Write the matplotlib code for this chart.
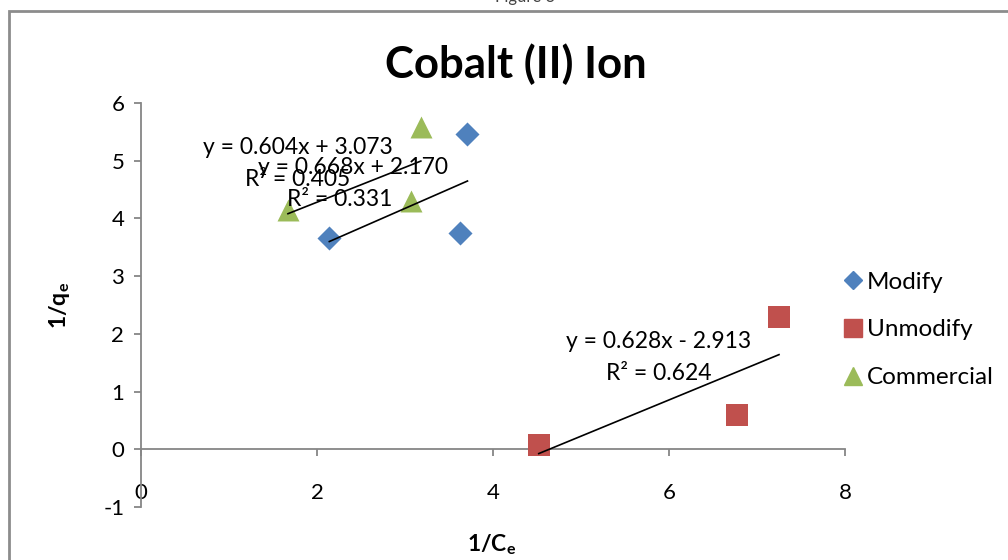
import matplotlib
matplotlib.use("Agg")
import matplotlib.pyplot as plt
import numpy as np
from matplotlib.lines import Line2D
from matplotlib.patches import Rectangle

plt.rcParams["font.family"] = ["Lato", "DejaVu Sans"]
plt.rcParams["mathtext.fontset"] = "custom"
plt.rcParams["mathtext.rm"] = "Lato"
plt.rcParams["mathtext.bf"] = "Lato:bold"
plt.rcParams["mathtext.it"] = "Lato:italic"
plt.rcParams["axes.unicode_minus"] = False

# 1/Ce and 1/qe for each adsorbent
modify_x = [2.14, 3.63, 3.71]
modify_y = [3.66, 3.74, 5.47]
unmodify_x = [4.52, 6.77, 7.25]
unmodify_y = [0.07, 0.59, 2.29]
commercial_x = [1.67, 3.07, 3.18]
commercial_y = [4.14, 4.30, 5.58]

# linear trendlines (slope, intercept, R^2)
modify_fit = (0.668, 2.170, 0.331)
unmodify_fit = (0.628, -2.913, 0.624)
commercial_fit = (0.604, 3.073, 0.405)

x_ticks = [0, 2, 4, 6, 8]
y_ticks = [-1, 0, 1, 2, 3, 4, 5, 6]

BLUE = "#4F81BD"
RED = "#C0504D"
GREEN = "#9BBB59"
AXIS_GRAY = "#868686"

fig = plt.figure(figsize=(10.08, 5.6), dpi=100)
ax = fig.add_axes([141 / 1008, 1 - 507 / 560, 704 / 1008, 404 / 560])

ax.scatter(modify_x, modify_y, marker="D", s=150, color=BLUE, zorder=3, linewidths=0)
ax.scatter(unmodify_x, unmodify_y, marker="s", s=230, color=RED, zorder=3, linewidths=0)
ax.scatter(commercial_x, commercial_y, marker="^", s=250, color=GREEN, zorder=3, linewidths=0)


def trend(xs, fit):
    m, b, _ = fit
    xx = np.array([min(xs), max(xs)])
    ax.plot(xx, m * xx + b, color="black", lw=1.2, zorder=4)


trend(modify_x, modify_fit)
trend(unmodify_x, unmodify_fit)
trend(commercial_x, commercial_fit)


def eq_text(fit):
    m, b, r2 = fit
    sign = "+" if b >= 0 else "-"
    return f"y = {m:.3f}x {sign} {abs(b):.3f}", f"R² = {r2:.3f}"


# equation labels placed in pixel coordinates of the figure
def put_label(fit, eq_xy, r2_xy):
    eq, r2 = eq_text(fit)
    fig.text(eq_xy[0] / 1008, 1 - eq_xy[1] / 560, eq, ha="center", va="center",
             fontsize=16.5, zorder=5)
    fig.text(r2_xy[0] / 1008, 1 - r2_xy[1] / 560, r2, ha="center", va="center",
             fontsize=16.5, zorder=5)


put_label(commercial_fit, (298, 148), (298, 180))
put_label(modify_fit, (353, 167), (340, 199))
put_label(unmodify_fit, (659, 341), (659, 373))

ax.set_xlim(0, 8)
ax.set_ylim(-1, 6)
ax.set_xticks(x_ticks)
ax.set_yticks(y_ticks)
ax.spines["top"].set_visible(False)
ax.spines["right"].set_visible(False)
ax.spines["bottom"].set_position(("data", 0))
for s in ("left", "bottom"):
    ax.spines[s].set_color(AXIS_GRAY)
    ax.spines[s].set_linewidth(1.3)
ax.tick_params(axis="x", direction="out", length=5, width=1.3, color=AXIS_GRAY,
               labelsize=16, pad=19)
ax.tick_params(axis="y", direction="out", length=5, width=1.3, color=AXIS_GRAY,
               labelsize=16, pad=7)
ax.patch.set_alpha(0)

fig.text(60 / 1008, 1 - 305 / 560, r"$\mathbf{1/q_e}$", rotation=90,
         ha="center", va="center", fontsize=16.5)
fig.text(492 / 1008, 1 - 545 / 560, r"$\mathbf{1/C_e}$",
         ha="center", va="center", fontsize=16.5)

fig.text(516 / 1008, 1 - 64 / 560, "Cobalt (II) Ion", ha="center", va="center",
         fontsize=31.5, fontweight="bold")

# caption of the page above the chart frame
fig.text(525 / 1008, 1 - 2 / 560, "Figure 3", ha="center", va="baseline",
         fontsize=12, color="#444444")

# chart frame
fig.patches.append(Rectangle((8.5 / 1008, -0.1), 1.2, 1.1 - 11 / 560,
                             transform=fig.transFigure, fill=False,
                             edgecolor="#8C8C8C", lw=2.0))

handles = [
    Line2D([], [], marker="D", ls="none", color=BLUE, markersize=9),
    Line2D([], [], marker="s", ls="none", color=RED, markersize=13),
    Line2D([], [], marker="^", ls="none", color=GREEN, markersize=13),
]
fig.legend(handles, ["Modify", "Unmodify", "Commercial"], loc="upper left",
           bbox_to_anchor=(834 / 1008, 1 - 262 / 560), frameon=False,
           fontsize=17.5, handlelength=0.8, handletextpad=0.15,
           labelspacing=1.1, borderaxespad=0)

fig.savefig("out.png", dpi=100)
